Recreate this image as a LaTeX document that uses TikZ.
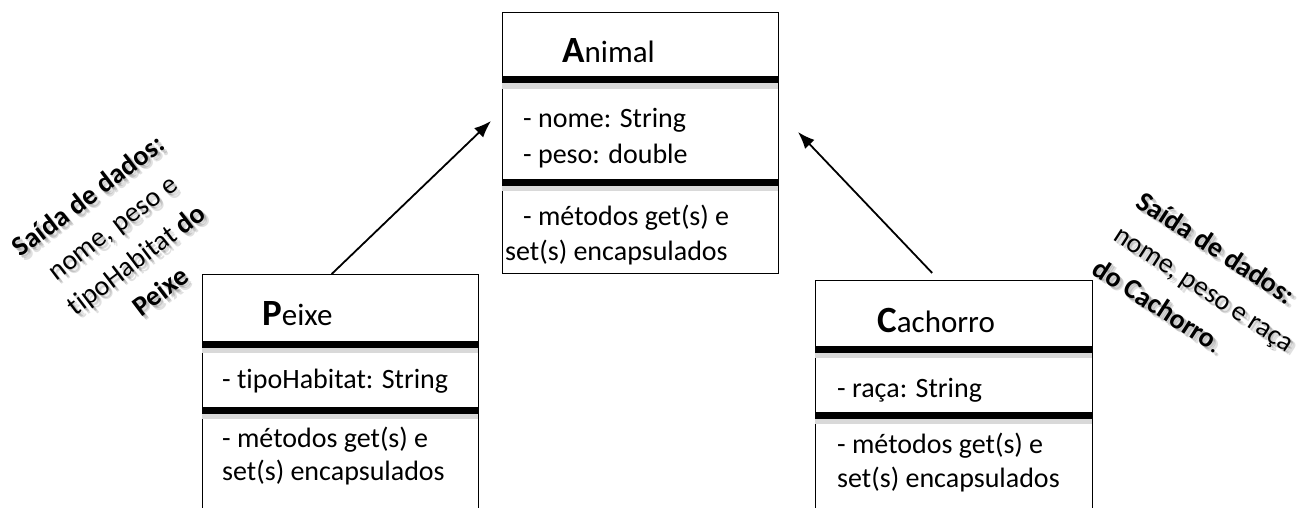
\documentclass[tikz,border=0pt]{standalone}
\usepackage{fontspec}
\setmainfont{Carlito}[Ligatures=NoCommon]
\usetikzlibrary{arrows.meta}

\newcommand{\tituloUML}[2]{{\fontsize{37}{40}\selectfont\bfseries #1}{\fontsize{31}{36}\selectfont #2}}
\newcommand{\notaPeixe}{\textbf{Saída de dados:}\\ nome, peso e\\ tipoHabitat \textbf{do}\\ \textbf{Peixe}}
\newcommand{\notaCachorro}{\textbf{Saída de dados:}\\ nome, peso e raça\\ \textbf{do Cachorro}.}

\tikzset{
	caixa/.style={draw, line width=1.4pt, anchor=north west, inner sep=0pt},
	divisao/.style={line width=7pt},
	sombraDiv/.style={line width=8pt, black!15},
	titulo/.style={anchor=base west, inner sep=0pt},
	texto/.style={anchor=base west, inner sep=0pt, font=\fontsize{28}{34}\selectfont},
	nota/.style={inner sep=0pt, font=\fontsize{28}{40}\selectfont},
	sombraNota/.style={nota, text=black, opacity=0.12},
	heranca/.style={-{Latex[length=17pt,width=13pt]}, line width=1.8pt},
}

\begin{document}
\begin{tikzpicture}[x=1pt,y=-1pt]
	\useasboundingbox (0,0) rectangle (1306,508);
	\fill[white] (0,0) rectangle (1306,508);
	% classes
	\node[caixa, minimum width=276pt, minimum height=261pt] (animal) at (502,12) {};
	\node[caixa, minimum width=276pt, minimum height=240pt] (peixe) at (202,274) {};
	\node[caixa, minimum width=277pt, minimum height=235pt] (cachorro) at (815,280) {};
	% divisoes
	\draw[sombraDiv] (502,85)--(778,85);
	\draw[sombraDiv] (502,187)--(778,187);
	\draw[sombraDiv] (202,349)--(478,349);
	\draw[sombraDiv] (202,415)--(478,415);
	\draw[sombraDiv] (815,354)--(1092,354);
	\draw[sombraDiv] (815,420)--(1092,420);
	\draw[divisao] (502,80)--(778,80);
	\draw[divisao] (502,182)--(778,182);
	\draw[divisao] (202,344)--(478,344);
	\draw[divisao] (202,410)--(478,410);
	\draw[divisao] (815,349)--(1092,349);
	\draw[divisao] (815,415)--(1092,415);
	% Animal
	\node[titulo] (tAnimal) at (562,63) {\tituloUML{A}{nimal}};
	\node[texto] (aNome) at (523,128) {- nome: String};
	\node[texto] (aPeso) at (523,163) {- peso: double};
	\node[texto] (aMet1) at (523,225) {- métodos get(s) e};
	\node[texto] (aMet2) at (505,260) {set(s) encapsulados};
	% Peixe
	\node[titulo] (tPeixe) at (262,325) {\tituloUML{P}{eixe}};
	\node[texto] (pHab) at (222,388) {- tipoHabitat: String};
	\node[texto] (pMet1) at (222,447) {- métodos get(s) e};
	\node[texto] (pMet2) at (222,480) {set(s) encapsulados};
	% Cachorro
	\node[titulo] (tCachorro) at (877,332) {\tituloUML{C}{achorro}};
	\node[texto] (cRaca) at (837,397) {- raça: String};
	\node[texto] (cMet1) at (837,453) {- métodos get(s) e};
	\node[texto] (cMet2) at (837,487) {set(s) encapsulados};
	% heranca
	\coordinate (pontaPeixe) at (491,121);
	\coordinate (pontaCachorro) at (798,132);
	\draw[heranca] ([xshift=-9pt]peixe.north)--(pontaPeixe);
	\draw[heranca] ([xshift=-22pt,yshift=7pt]cachorro.north)--(pontaCachorro);
	% notas (sombra difusa)
	\foreach \d in {1.5,3,4.5} {
		\node[sombraNota, align=center, rotate=37] at (124+\d,243+\d) {\notaPeixe};
		\node[sombraNota, align=left, rotate=-33] at (1205+\d,288+\d) {\notaCachorro};
	}
	\node[nota, align=center, rotate=37] (nPeixe) at (124,243) {\notaPeixe};
	\node[nota, align=left, rotate=-33] (nCachorro) at (1205,288) {\notaCachorro};
\end{tikzpicture}
\end{document}
